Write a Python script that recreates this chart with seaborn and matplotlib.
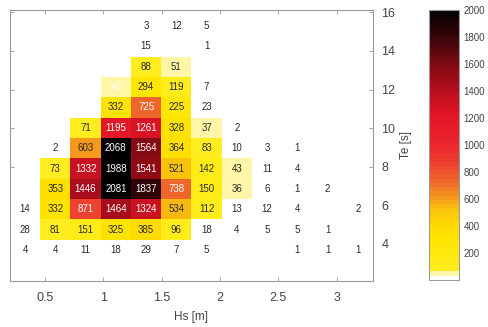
import numpy as np
import pandas as pd
import matplotlib
matplotlib.use("Agg")
import matplotlib.pyplot as plt
from matplotlib.colors import LinearSegmentedColormap, ListedColormap
import seaborn as sns

# Occurrence counts of sea states: rows are Te bins (highest first), columns are Hs bins
counts = [
    [0, 0, 0, 0, 3, 12, 5, 0, 0, 0, 0, 0],
    [0, 0, 0, 0, 15, 0, 1, 0, 0, 0, 0, 0],
    [0, 0, 0, 0, 88, 51, 0, 0, 0, 0, 0, 0],
    [0, 0, 0, 41, 294, 119, 7, 0, 0, 0, 0, 0],
    [0, 0, 0, 332, 725, 225, 23, 0, 0, 0, 0, 0],
    [0, 0, 71, 1195, 1261, 328, 37, 2, 0, 0, 0, 0],
    [0, 2, 603, 2068, 1564, 364, 83, 10, 3, 1, 0, 0],
    [0, 73, 1332, 1988, 1541, 521, 142, 43, 11, 4, 0, 0],
    [0, 353, 1446, 2081, 1837, 738, 150, 36, 6, 1, 2, 0],
    [14, 332, 871, 1464, 1324, 534, 112, 13, 12, 4, 0, 2],
    [28, 81, 151, 325, 385, 96, 18, 4, 5, 5, 1, 0],
    [4, 4, 11, 18, 29, 7, 5, 0, 0, 1, 1, 1],
]
hs_ticks = [0.5, 1, 1.5, 2, 2.5, 3]
te_ticks = [4, 6, 8, 10, 12, 14, 16]
cbar_ticks = [200, 400, 600, 800, 1000, 1200, 1400, 1600, 1800, 2000]

data = pd.DataFrame(np.array(counts, dtype=float))
data = data.where(data > 0)

# 64-level white -> yellow -> red -> black colour scale
anchors = [
    (0.0, (1, 1, 1)), (0.0234, (1, 0.97, 0.66)), (0.039, (1, 0.93, 0.12)),
    (0.15, (1, 0.9, 0.0)), (0.22, (0.99, 0.84, 0.02)), (0.27, (0.98, 0.74, 0.05)),
    (0.30, (0.96, 0.62, 0.10)), (0.36, (0.94, 0.42, 0.17)), (0.42, (0.93, 0.28, 0.18)),
    (0.50, (0.92, 0.15, 0.18)), (0.62, (0.88, 0.08, 0.15)), (0.70, (0.72, 0.06, 0.12)),
    (0.78, (0.55, 0.04, 0.08)), (0.90, (0.22, 0.02, 0.04)), (1.0, (0, 0, 0)),
]
smooth = LinearSegmentedColormap.from_list("wyrk", anchors)
levels = smooth((np.arange(64) + 0.5) / 64)
levels[0] = (1, 1, 1, 1)
cmap = ListedColormap(levels)

sns.set_style("white")
plt.rcParams["font.family"] = ["Liberation Sans", "DejaVu Sans"]
text_color = "#444444"
edge_color = "#9a9a9a"

fig = plt.figure(figsize=(4.89, 3.27), dpi=100)
ax = fig.add_axes([0.0204, 0.1416, 0.7424, 0.8278])
cax = fig.add_axes([0.877, 0.144, 0.062, 0.826])

sns.heatmap(data, ax=ax, cbar_ax=cax, cmap=cmap, vmin=0, vmax=2000,
            annot=True, fmt=".0f", annot_kws={"fontsize": 7},
            cbar_kws={"ticks": cbar_ticks})

# text colour: white on the dark cells
for t in ax.texts:
    v = float(t.get_text())
    t.set_color("white" if (v >= 700 or v == 41) else "#2a2a2a")

# Hs axis: 3.857 cells per metre, 0.5 m at cell coordinate 1.157
ax.set_xlim(0, 12)
ax.set_xticks([1.157 + (h - 0.5) * 3.857 for h in hs_ticks])
ax.set_xticklabels([f"{h:g}" for h in hs_ticks], rotation=0)
ax.set_xlabel("Hs [m]", fontsize=8.5, color=text_color, labelpad=5)

# Te axis on the right: 0.948 rows per second, 16 s at row coordinate -0.172
ax.set_ylim(13.01, -0.285)
ax.set_yticks([-0.172 + (16 - t) * 0.948 for t in te_ticks])
ax.set_yticklabels([str(t) for t in te_ticks], rotation=0)
ax.yaxis.tick_right()
ax.yaxis.set_label_position("right")
ax.set_ylabel("Te [s]", fontsize=8.5, color=text_color, labelpad=3)

for sp in ax.spines.values():
    sp.set_visible(True)
    sp.set_color(edge_color)
    sp.set_linewidth(0.8)
ax.tick_params(axis="x", which="both", direction="in", length=3, width=0.6,
               color=edge_color, labelsize=9, labelcolor=text_color,
               top=True, bottom=True, pad=8)
ax.tick_params(axis="y", which="both", direction="in", length=3, width=0.6,
               color=edge_color, labelsize=9, labelcolor=text_color,
               left=True, right=True, pad=6)

cbar = ax.collections[0].colorbar
cbar.outline.set_edgecolor(edge_color)
cbar.outline.set_linewidth(0.8)
cax.tick_params(direction="in", length=2, width=0.6, color="#666666",
                labelsize=7, labelcolor=text_color, pad=3)

fig.savefig("out.png", dpi=100)
